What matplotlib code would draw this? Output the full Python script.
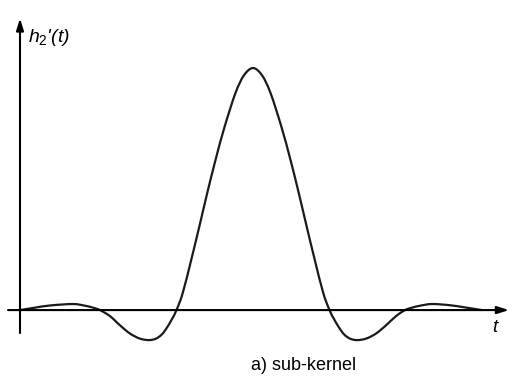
import matplotlib
matplotlib.use("Agg")
import matplotlib.pyplot as plt
from matplotlib.path import Path
from matplotlib.patches import PathPatch

# sub-kernel h2'(t): sample positions and normalised amplitude (peak = 1)
t = [0.0, 1.5, 3.0, 5.3, 6.5, 7.3, 8.0,
     9.0, 10.0, 11.0, 12.0, 12.9, 13.6, 14.2, 14.7, 15.2,
     15.65, 16.27, 17.12, 17.92, 18.72, 19.55, 20.45, 21.55, 22.4, 23.3,
     24.2, 25.05, 26.15, 27.05, 27.88, 28.68, 29.48, 30.33, 30.95,
     31.4, 31.9, 32.4, 33.0, 33.7, 34.6, 35.6, 36.6, 37.6, 38.5,
     39.2, 40.0, 41.2, 43.0, 44.5, 46.2]
h = [0.0, 0.01, 0.019, 0.025, 0.018, 0.01, 0.0,
     -0.025, -0.063, -0.097, -0.118, -0.124, -0.118, -0.1, -0.072, -0.037,
     0.0, 0.07, 0.207, 0.343, 0.483, 0.62, 0.756, 0.897, 0.97, 1.0,
     0.97, 0.897, 0.756, 0.62, 0.483, 0.343, 0.207, 0.07, 0.0,
     -0.037, -0.072, -0.1, -0.118, -0.124, -0.118, -0.097, -0.063, -0.025, 0.0,
     0.01, 0.018, 0.025, 0.02, 0.011, 0.0]

y_label = r"$h_{\mathit{2}}$'(t)"
x_label = "t"
caption = "a) sub-kernel"

plt.rcParams["mathtext.fontset"] = "custom"
plt.rcParams["mathtext.it"] = "Liberation Sans:italic"
plt.rcParams["mathtext.rm"] = "Liberation Sans"


def smooth_path(xs, ys):
    # Catmull-Rom through the samples, expressed as cubic Bezier segments
    pts = list(zip(xs, ys))
    verts = [pts[0]]
    codes = [Path.MOVETO]
    n = len(pts)
    for i in range(n - 1):
        p0 = pts[i - 1] if i > 0 else pts[i]
        p1 = pts[i]
        p2 = pts[i + 1]
        p3 = pts[i + 2] if i + 2 < n else pts[i + 1]
        c1 = (p1[0] + (p2[0] - p0[0]) / 6, p1[1] + (p2[1] - p0[1]) / 6)
        c2 = (p2[0] - (p3[0] - p1[0]) / 6, p2[1] - (p3[1] - p1[1]) / 6)
        verts += [c1, c2, p2]
        codes += [Path.CURVE4] * 3
    return Path(verts, codes)


fig = plt.figure(figsize=(5.1, 3.81), dpi=100)
ax = fig.add_axes([0, 0, 1, 1])
ax.set_xlim(-2.0, 49.0)
ax.set_ylim(-0.293, 1.281)
ax.axis("off")

arrow = dict(arrowstyle="-|>,head_length=0.7,head_width=0.22", color="black",
             lw=1.5, shrinkA=0, shrinkB=0)
ax.annotate("", xy=(48.9, 0), xytext=(-1.2, 0), arrowprops=arrow)
ax.annotate("", xy=(0, 1.205), xytext=(0, -0.095), arrowprops=arrow)

ax.add_patch(PathPatch(smooth_path(t, h), facecolor="none",
                       edgecolor="#1a1a1a", lw=1.6))

ax.text(0.8, 1.107, y_label, fontsize=14, family="Liberation Sans",
        style="italic", va="baseline", ha="left")
ax.text(47.5, -0.074, x_label, fontsize=13.5, family="Liberation Sans",
        style="italic", va="center", ha="center")
ax.text(28.4, -0.227, caption, fontsize=13, family="Liberation Sans",
        va="center", ha="center")

fig.savefig("out.png", dpi=100)
